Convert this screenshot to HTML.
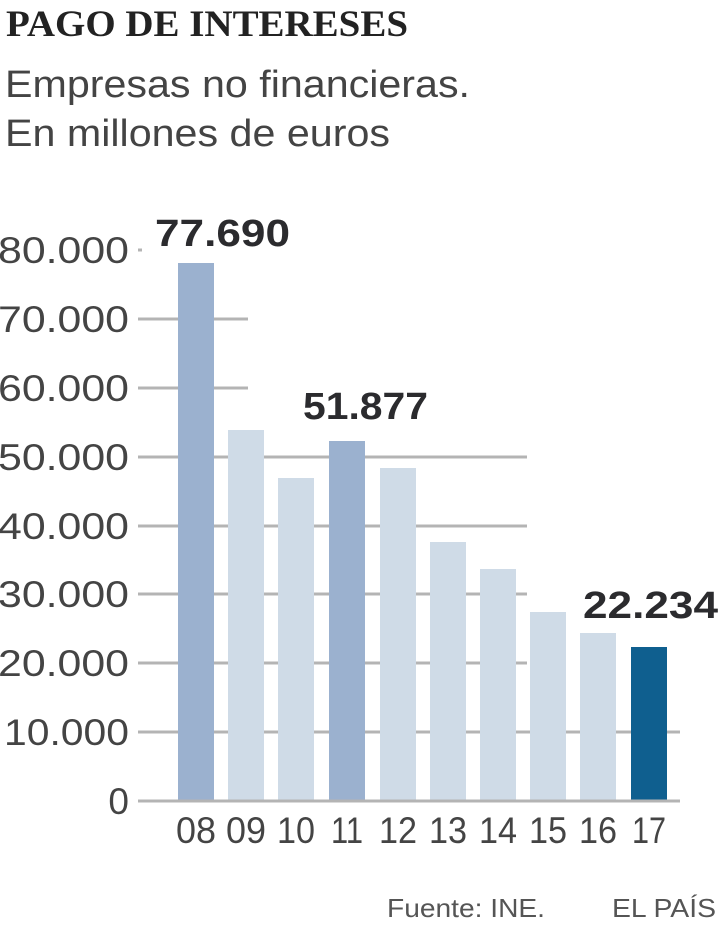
<!DOCTYPE html>
<html><head><meta charset="utf-8"><style>
html,body{margin:0;padding:0;background:#fff;width:720px;height:936px;overflow:hidden}
svg{display:block}
</style></head><body>
<svg width="720" height="936" viewBox="0 0 720 936" xmlns="http://www.w3.org/2000/svg">
<text x="6" y="36" font-family="Liberation Serif, serif" font-weight="bold" font-size="37" fill="#222" textLength="402" lengthAdjust="spacingAndGlyphs">PAGO DE INTERESES</text>
<text x="5" y="97" font-family="Liberation Sans, sans-serif" font-size="38" fill="#444" textLength="465" lengthAdjust="spacingAndGlyphs">Empresas no financieras.</text>
<text x="5" y="146" font-family="Liberation Sans, sans-serif" font-size="38" fill="#444" textLength="385" lengthAdjust="spacingAndGlyphs">En millones de euros</text>
<g stroke="#b4b4b4" stroke-width="3">
<line x1="138" y1="250" x2="142" y2="250"/>
<line x1="138" y1="319" x2="248" y2="319"/>
<line x1="138" y1="388" x2="248" y2="388"/>
<line x1="138" y1="457" x2="527" y2="457"/>
<line x1="138" y1="526" x2="527" y2="526"/>
<line x1="138" y1="594" x2="527" y2="594"/>
<line x1="138" y1="663" x2="527" y2="663"/>
<line x1="138" y1="732" x2="680" y2="732"/>
<line x1="138" y1="801" x2="680" y2="801"/>
</g>
<g>
<rect x="178" y="263" width="36" height="538" fill="#9bb1cf"/>
<rect x="228" y="430" width="36" height="371" fill="#cfdbe7"/>
<rect x="278" y="478" width="36" height="323" fill="#cfdbe7"/>
<rect x="329" y="441" width="36" height="360" fill="#9bb1cf"/>
<rect x="380" y="468" width="36" height="333" fill="#cfdbe7"/>
<rect x="430" y="542" width="36" height="259" fill="#cfdbe7"/>
<rect x="480" y="569" width="36" height="232" fill="#cfdbe7"/>
<rect x="530" y="612" width="36" height="189" fill="#cfdbe7"/>
<rect x="580" y="633" width="36" height="168" fill="#cfdbe7"/>
<rect x="631" y="647" width="36" height="154" fill="#0f5f8f"/>
</g>
<line x1="138" y1="801" x2="680" y2="801" stroke="#b4b4b4" stroke-width="3"/>
<g font-family="Liberation Sans, sans-serif" font-size="37" fill="#444" text-anchor="end">
<text x="129" y="263" textLength="131" lengthAdjust="spacingAndGlyphs">80.000</text>
<text x="129" y="332" textLength="131" lengthAdjust="spacingAndGlyphs">70.000</text>
<text x="129" y="401" textLength="131" lengthAdjust="spacingAndGlyphs">60.000</text>
<text x="129" y="470" textLength="131" lengthAdjust="spacingAndGlyphs">50.000</text>
<text x="129" y="539" textLength="131" lengthAdjust="spacingAndGlyphs">40.000</text>
<text x="129" y="607" textLength="131" lengthAdjust="spacingAndGlyphs">30.000</text>
<text x="129" y="676" textLength="131" lengthAdjust="spacingAndGlyphs">20.000</text>
<text x="129" y="745" textLength="125" lengthAdjust="spacingAndGlyphs">10.000</text>
<text x="129" y="814">0</text>
</g>
<g font-family="Liberation Sans, sans-serif" font-size="37" fill="#444" text-anchor="middle">
<text x="196" y="843" textLength="40" lengthAdjust="spacingAndGlyphs">08</text>
<text x="246" y="843" textLength="40" lengthAdjust="spacingAndGlyphs">09</text>
<text x="296" y="843" textLength="38" lengthAdjust="spacingAndGlyphs">10</text>
<text x="347" y="843" textLength="32" lengthAdjust="spacingAndGlyphs">11</text>
<text x="398" y="843" textLength="38" lengthAdjust="spacingAndGlyphs">12</text>
<text x="448" y="843" textLength="38" lengthAdjust="spacingAndGlyphs">13</text>
<text x="498" y="843" textLength="38" lengthAdjust="spacingAndGlyphs">14</text>
<text x="548" y="843" textLength="38" lengthAdjust="spacingAndGlyphs">15</text>
<text x="598" y="843" textLength="38" lengthAdjust="spacingAndGlyphs">16</text>
<text x="649" y="843" textLength="34" lengthAdjust="spacingAndGlyphs">17</text>
</g>
<g font-family="Liberation Sans, sans-serif" font-weight="bold" font-size="38" fill="#2b2b2e">
<text x="155" y="246" textLength="135" lengthAdjust="spacingAndGlyphs">77.690</text>
<text x="303" y="419" textLength="125" lengthAdjust="spacingAndGlyphs">51.877</text>
<text x="583" y="618" textLength="135" lengthAdjust="spacingAndGlyphs">22.234</text>
</g>
<g font-family="Liberation Sans, sans-serif" font-size="26" fill="#555">
<text x="387" y="917" textLength="158" lengthAdjust="spacingAndGlyphs">Fuente: INE.</text>
<text x="612" y="917" textLength="104" lengthAdjust="spacingAndGlyphs">EL PAÍS</text>
</g>
</svg>
</body></html>
